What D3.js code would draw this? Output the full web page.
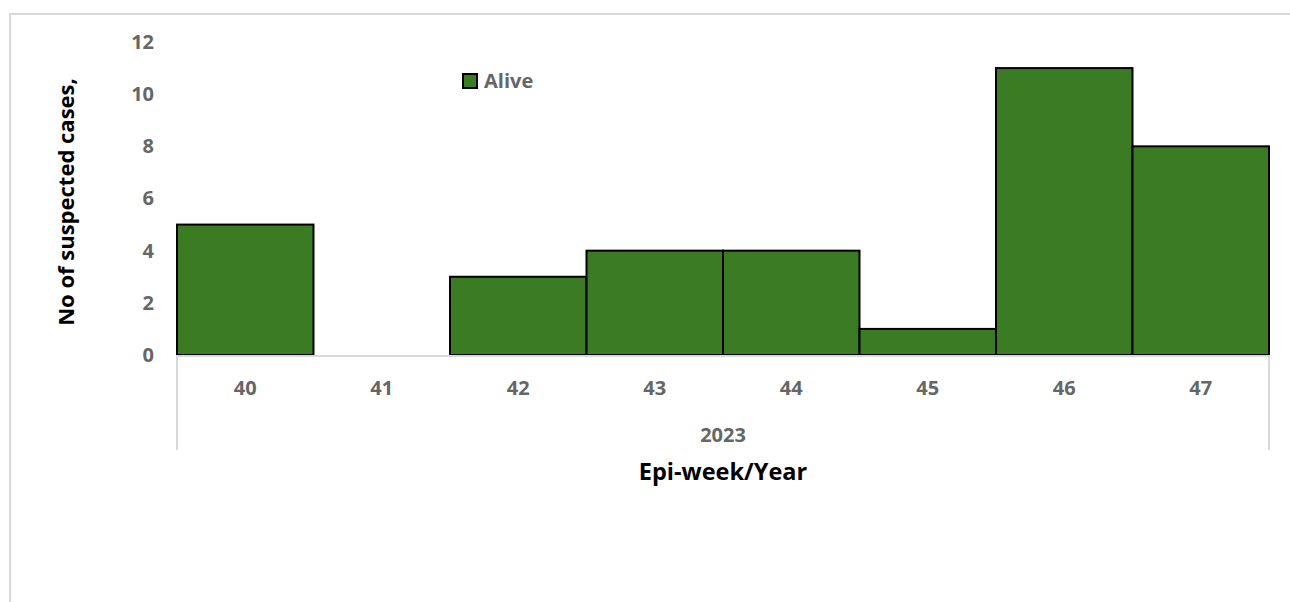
<!DOCTYPE html>
<html>
<head>
<meta charset="utf-8">
<script src="https://cdn.jsdelivr.net/npm/d3@7"></script>
<style>
  body { margin: 0; background: #fff; }
  text { font-family: "Open Sans", "Liberation Sans", Arial, sans-serif; }
</style>
</head>
<body>
<div id="main"></div>
<script>
var weeks = ["40", "41", "42", "43", "44", "45", "46", "47"];
var alive = [5, 0, 3, 4, 4, 1, 11, 8];
var yTicks = [0, 2, 4, 6, 8, 10, 12];
var yearLabel = "2023";
var seriesName = "Alive";

var width = 1290,
    height = 602;

var margin = {top: 42, right: 21, bottom: 247, left: 177};

var svg = d3.select("#main")
    .append("svg")
    .attr("width", width)
    .attr("height", height);

// chart area border (cut off at right/bottom)
svg.append("rect")
    .attr("x", 10)
    .attr("y", 14)
    .attr("width", width)
    .attr("height", height)
    .attr("fill", "none")
    .attr("stroke", "#d9d9d9")
    .attr("stroke-width", 2);

var x = d3.scaleBand()
    .domain(weeks)
    .range([margin.left, width - margin.right])
    .padding(0);

var y = d3.scaleLinear()
    .domain([0, 12])
    .range([height - margin.bottom, margin.top]);

var y0 = y(0);

// bars
svg.append("g")
    .selectAll("rect")
    .data(alive)
    .enter()
    .append("rect")
    .attr("x", function(d, i) { return x(weeks[i]); })
    .attr("y", function(d) { return y(d); })
    .attr("width", x.bandwidth())
    .attr("height", function(d) { return y0 - y(d); })
    .attr("fill", "#3b7b23")
    .attr("stroke", function(d) { return d > 0 ? "#000" : "none"; })
    .attr("stroke-width", 2);

// y axis labels
var yAxis = svg.append("g")
    .attr("transform", "translate(" + (margin.left - 23) + ",0)")
    .call(d3.axisLeft(y).tickValues(yTicks).tickSize(0).tickPadding(0));
yAxis.select(".domain").remove();
yAxis.selectAll("text")
    .attr("fill", "#666666")
    .style("font-size", "20px")
    .style("font-weight", "bold");

// category axis lines
var axisBottom = y0 + 95;
svg.append("line")
    .attr("x1", margin.left).attr("x2", width - margin.right)
    .attr("y1", y0 + 1).attr("y2", y0 + 1)
    .attr("stroke", "#d9d9d9").attr("stroke-width", 2);
[margin.left, width - margin.right].forEach(function(px) {
    svg.append("line")
        .attr("x1", px).attr("x2", px)
        .attr("y1", y0).attr("y2", axisBottom)
        .attr("stroke", "#d9d9d9").attr("stroke-width", 2);
});

var xAxis = svg.append("g")
    .attr("transform", "translate(0," + y0 + ")")
    .call(d3.axisBottom(x).tickSize(0).tickPadding(0));
xAxis.select(".domain").remove();
xAxis.selectAll("text")
    .attr("dy", "0")
    .attr("y", 40)
    .attr("fill", "#666666")
    .style("font-size", "20px")
    .style("font-weight", "bold");

svg.append("text")
    .attr("x", (margin.left + width - margin.right) / 2)
    .attr("y", y0 + 87)
    .attr("text-anchor", "middle")
    .attr("fill", "#666666")
    .style("font-size", "20px")
    .style("font-weight", "bold")
    .text(yearLabel);

// axis titles
svg.append("text")
    .attr("x", (margin.left + width - margin.right) / 2)
    .attr("y", y0 + 125)
    .attr("text-anchor", "middle")
    .attr("fill", "#000")
    .style("font-size", "23.5px")
    .style("font-weight", "bold")
    .text("Epi-week/Year");

svg.append("text")
    .attr("transform", "translate(74," + 202 + ") rotate(-90)")
    .attr("text-anchor", "middle")
    .attr("fill", "#000")
    .style("font-size", "22px")
    .style("font-weight", "bold")
    .text("No of suspected cases,");

// legend
var legend = svg.append("g").attr("transform", "translate(463,74)");
legend.append("rect")
    .attr("width", 14).attr("height", 14)
    .attr("fill", "#3b7b23")
    .attr("stroke", "#000")
    .attr("stroke-width", 2);
legend.append("text")
    .attr("x", 21).attr("y", 14)
    .attr("fill", "#666666")
    .style("font-size", "20px")
    .style("font-weight", "bold")
    .text(seriesName);
</script>
</body>
</html>
